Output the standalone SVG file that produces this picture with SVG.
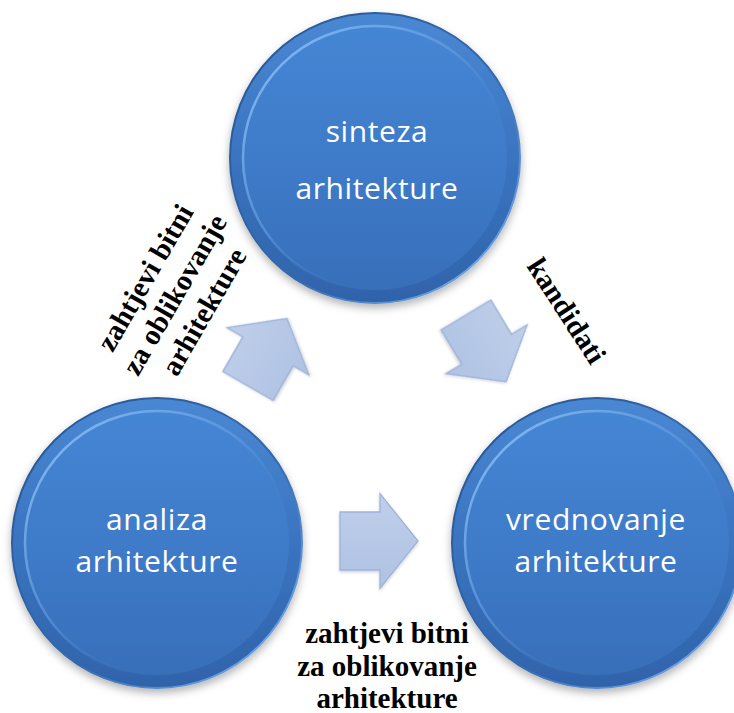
<svg xmlns="http://www.w3.org/2000/svg" width="734" height="713" viewBox="0 0 734 713">
  <defs>
    <linearGradient id="outerGrad" x1="0" y1="0" x2="0" y2="1">
      <stop offset="0" stop-color="#4a88d4"/>
      <stop offset="0.5" stop-color="#3a74c0"/>
      <stop offset="1" stop-color="#2f63aa"/>
    </linearGradient>
    <linearGradient id="innerGrad" x1="0" y1="0" x2="0" y2="1">
      <stop offset="0" stop-color="#4586d4"/>
      <stop offset="0.6" stop-color="#3d79c6"/>
      <stop offset="1" stop-color="#386fb9"/>
    </linearGradient>
    <linearGradient id="rimGrad" x1="0.1" y1="0.1" x2="0.75" y2="0.75">
      <stop offset="0" stop-color="#80b8f2" stop-opacity="1"/>
      <stop offset="0.55" stop-color="#6aa2e6" stop-opacity="0.5"/>
      <stop offset="1" stop-color="#3a72bd" stop-opacity="0"/>
    </linearGradient>
    <linearGradient id="edgeGrad" x1="0.15" y1="0.15" x2="0.85" y2="0.85">
      <stop offset="0" stop-color="#2a5a98"/>
      <stop offset="0.6" stop-color="#3569ad"/>
      <stop offset="1" stop-color="#6b9fe0"/>
    </linearGradient>
    <linearGradient id="arrowGrad" x1="0" y1="0" x2="0" y2="1">
      <stop offset="0" stop-color="#bfcfea"/>
      <stop offset="1" stop-color="#afc2e3"/>
    </linearGradient>
    <filter id="shadow" x="-20%" y="-20%" width="140%" height="140%">
      <feDropShadow dx="0" dy="4" stdDeviation="4" flood-color="#000" flood-opacity="0.3"/>
    </filter>
    <filter id="ashadow" x="-20%" y="-20%" width="140%" height="140%">
      <feDropShadow dx="0" dy="1.5" stdDeviation="1.5" flood-color="#000" flood-opacity="0.18"/>
    </filter>
    <path id="arrowShape" d="M0,-29 L40,-29 L40,-47.5 L78,0 L40,47.5 L40,29 L0,29 Z"/>
  </defs>
  <style>
    .outer { fill: url(#outerGrad); stroke: url(#edgeGrad); stroke-width: 2; filter: url(#shadow); }
    .inner { fill: url(#innerGrad); stroke: url(#rimGrad); stroke-width: 2.5; }
    .ntext { font-family: "Open Sans", "Noto Sans", sans-serif; font-size: 30px; fill: #ffffff; text-anchor: middle; letter-spacing: 0.6px; }
    .arrow { fill: url(#arrowGrad); stroke: #9db3d9; stroke-width: 1.3; stroke-linejoin: miter; filter: url(#ashadow); }
    .label { font-family: "Liberation Serif", "Times New Roman", serif; font-weight: bold; font-size: 29px; fill: #000000; text-anchor: middle; }
  </style>
  <rect width="734" height="713" fill="#ffffff"/>

  <g id="connectors">
    <g id="arrow-analiza-sinteza">
      <use href="#arrowShape" class="arrow" transform="translate(248,386) rotate(-60)"/>
      <g transform="translate(175,295) rotate(-60)">
        <text class="label" x="0" y="-25">zahtjevi bitni</text>
        <text class="label" x="0" y="9">za oblikovanje</text>
        <text class="label" x="0" y="43">arhitekture</text>
      </g>
    </g>
    <g id="arrow-sinteza-vrednovanje">
      <use href="#arrowShape" class="arrow" transform="translate(466,315) rotate(59)"/>
      <g transform="translate(566,311) rotate(57)">
        <text class="label" x="0" y="9">kandidati</text>
      </g>
    </g>
    <g id="arrow-analiza-vrednovanje">
      <use href="#arrowShape" class="arrow" transform="translate(340,541)"/>
      <text class="label" x="387" y="643">zahtjevi bitni</text>
      <text class="label" x="387" y="676">za oblikovanje</text>
      <text class="label" x="387" y="708">arhitekture</text>
    </g>
  </g>

  <g id="node-sinteza">
    <circle class="outer" cx="375" cy="158" r="145"/>
    <circle class="inner" cx="375" cy="158" r="132"/>
    <text class="ntext" x="377" y="142">sinteza</text>
    <text class="ntext" x="377" y="199">arhitekture</text>
  </g>

  <g id="node-analiza">
    <circle class="outer" cx="157" cy="543" r="145"/>
    <circle class="inner" cx="157" cy="543" r="132"/>
    <text class="ntext" x="157" y="530">analiza</text>
    <text class="ntext" x="157" y="572">arhitekture</text>
  </g>

  <g id="node-vrednovanje">
    <circle class="outer" cx="597" cy="543" r="145"/>
    <circle class="inner" cx="597" cy="543" r="132"/>
    <text class="ntext" x="596" y="530">vrednovanje</text>
    <text class="ntext" x="596" y="572">arhitekture</text>
  </g>
</svg>
